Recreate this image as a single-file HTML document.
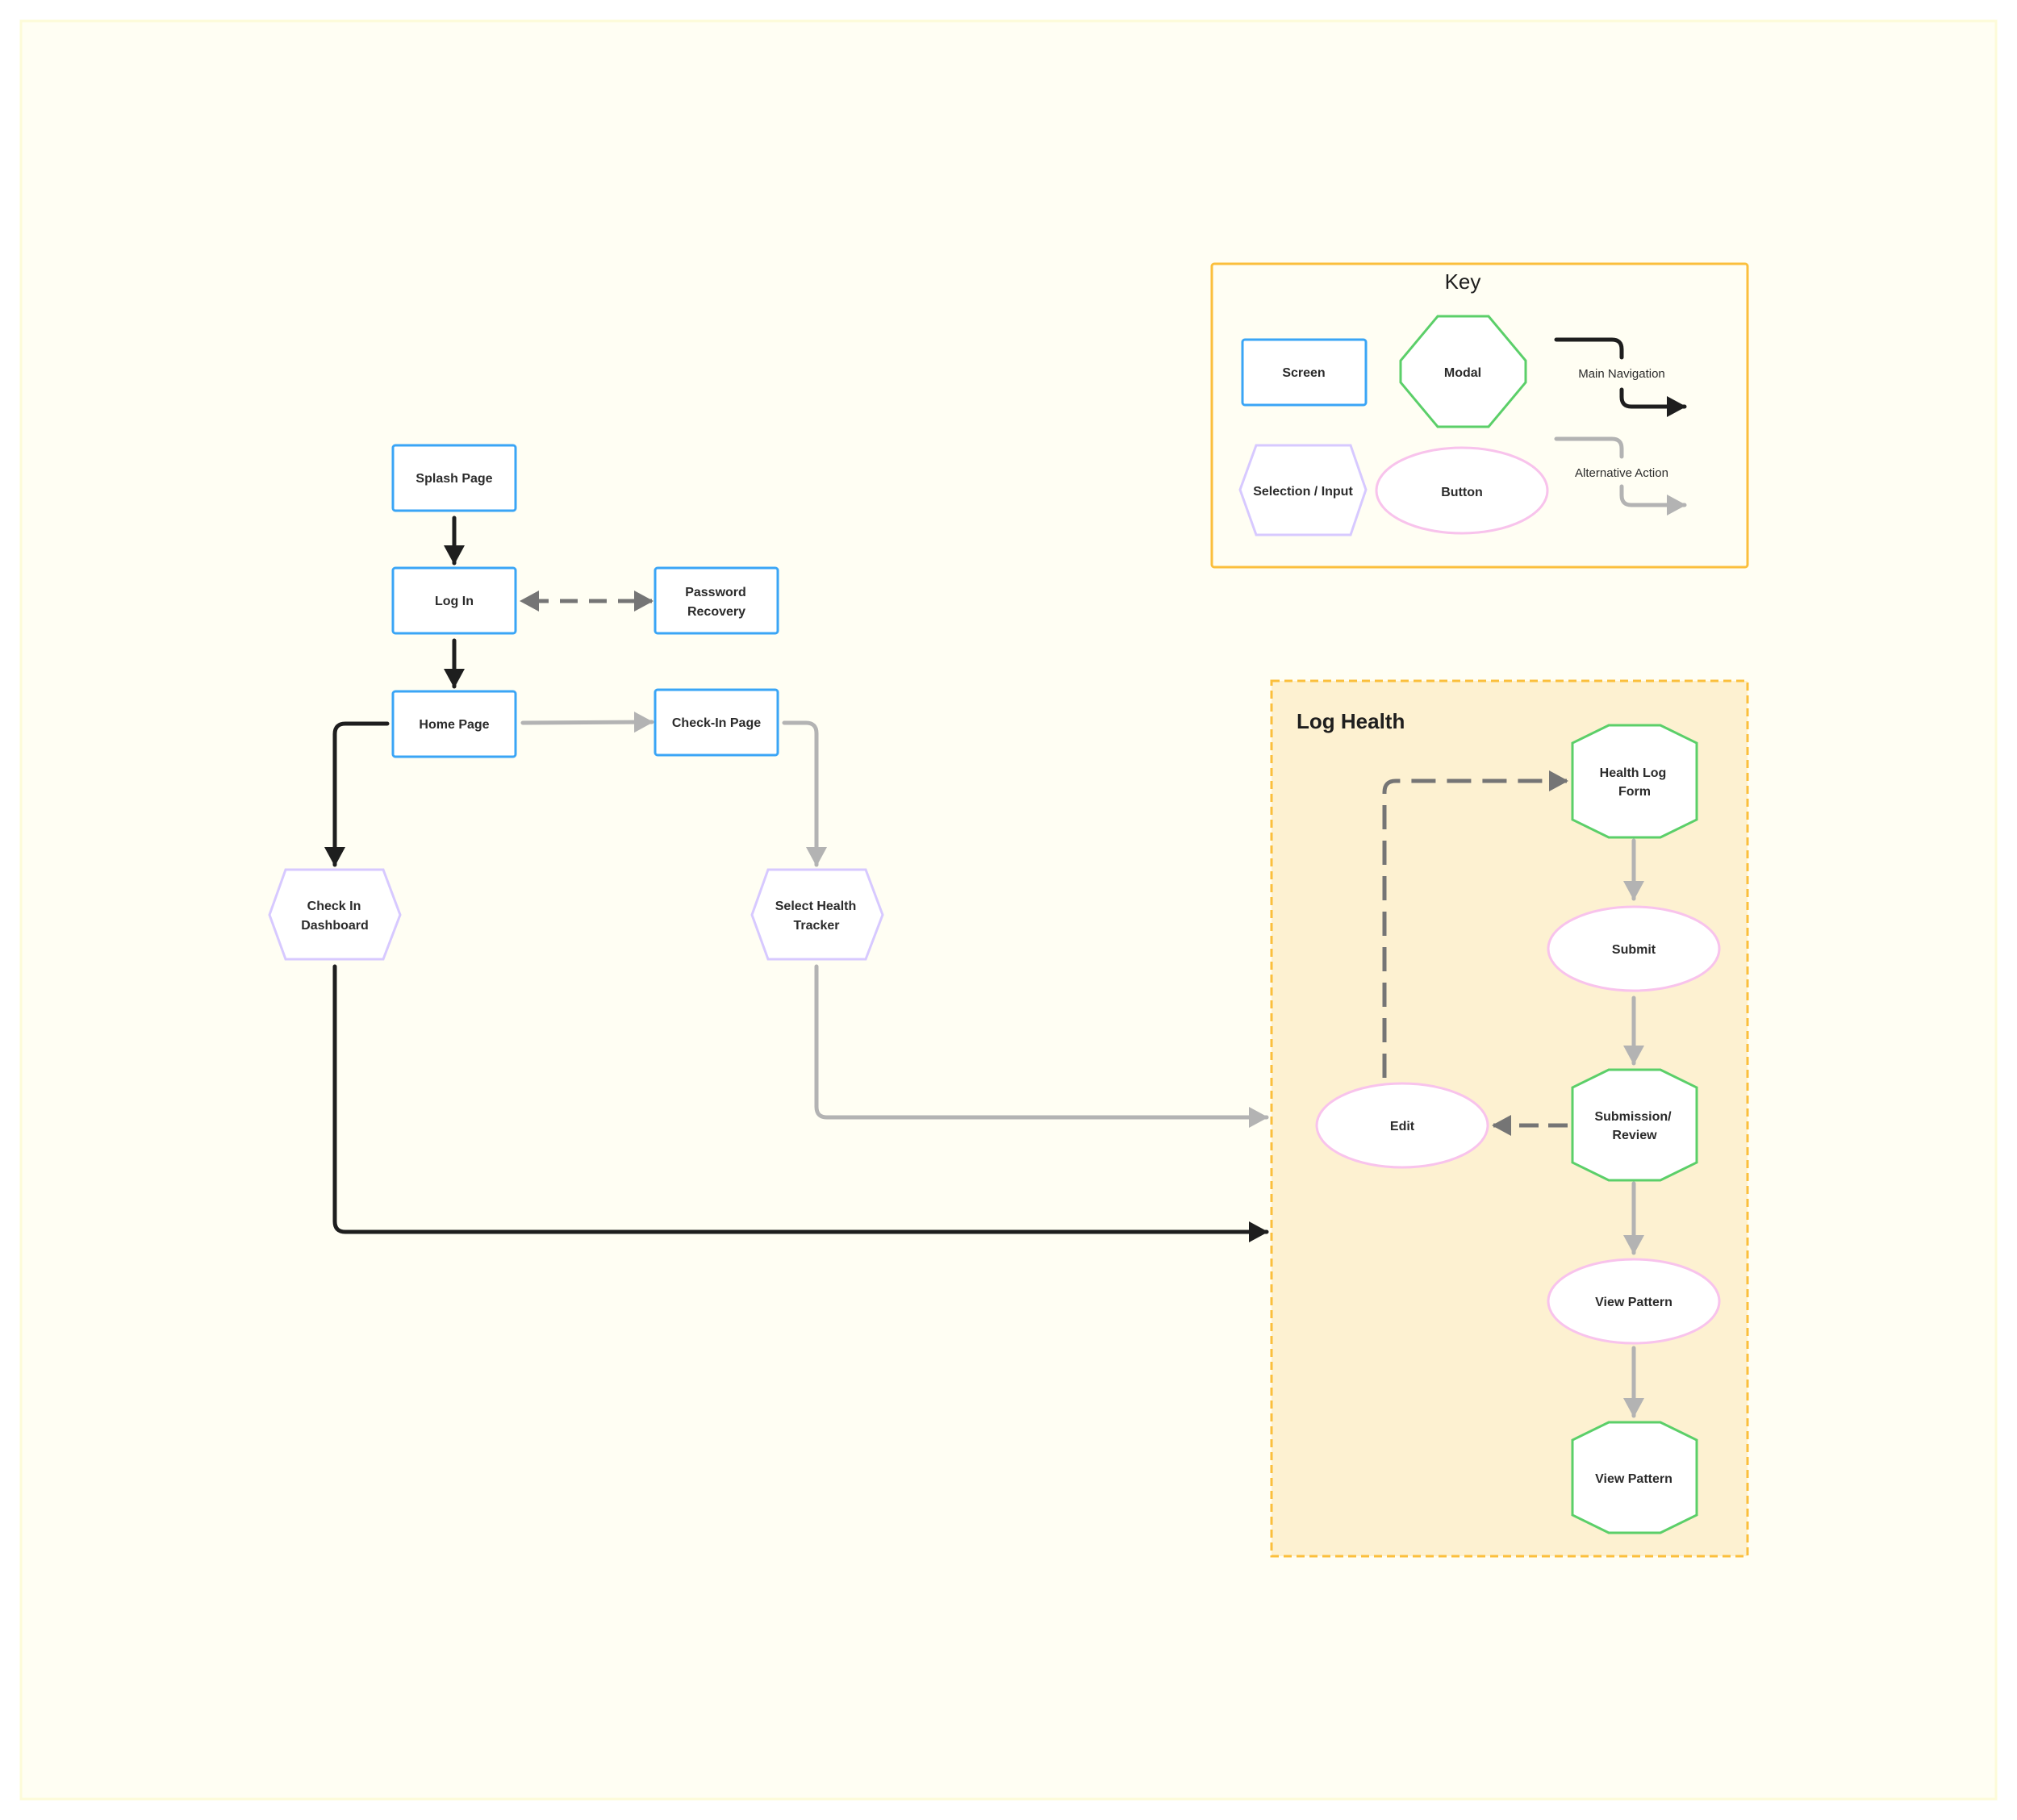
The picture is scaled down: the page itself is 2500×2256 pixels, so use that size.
<!DOCTYPE html>
<html><head><meta charset="utf-8"><style>
html,body{margin:0;padding:0;background:#fff;}
svg{display:block;font-family:"Liberation Sans",sans-serif;}
text{font-weight:bold;fill:#2b2b2b;font-size:16px;text-anchor:middle;}
</style></head><body>
<svg width="2500" height="2256" viewBox="0 0 2500 2256" xmlns="http://www.w3.org/2000/svg">
<defs>
<marker id="ab" markerUnits="userSpaceOnUse" markerWidth="30" markerHeight="30" refX="22" refY="13" orient="auto"><path d="M0,0 L24,13 L0,26 Z" fill="#1e1e1e"/></marker>
<marker id="ag" markerUnits="userSpaceOnUse" markerWidth="30" markerHeight="30" refX="22" refY="13" orient="auto"><path d="M0,0 L24,13 L0,26 Z" fill="#b3b3b3"/></marker>
<marker id="ad" markerUnits="userSpaceOnUse" markerWidth="30" markerHeight="30" refX="22" refY="13" orient="auto"><path d="M0,0 L24,13 L0,26 Z" fill="#757575"/></marker>
<marker id="ads" markerUnits="userSpaceOnUse" markerWidth="30" markerHeight="30" refX="2" refY="13" orient="auto"><path d="M24,0 L0,13 L24,26 Z" fill="#757575"/></marker>
</defs>
<rect x="0" y="0" width="2500" height="2256" fill="#ffffff"/>
<rect x="26" y="26" width="2448" height="2204" fill="#fffef3" stroke="#fdfbd8" stroke-width="3"/>

<!-- Key -->
<rect x="1502" y="327" width="664" height="376" rx="3" fill="#fffef3" stroke="#fbbf3c" stroke-width="3"/>
<text x="1813" y="358" style="font-weight:normal;font-size:26px;fill:#1e1e1e">Key</text>
<rect x="1540" y="421" width="153" height="81" rx="3" fill="#fff" stroke="#3aa5f6" stroke-width="3"/>
<text x="1616" y="467">Screen</text>
<polygon points="1782,392 1845,392 1891,447 1891,474 1845,529 1782,529 1736,474 1736,447" fill="#fff" stroke="#5bcf69" stroke-width="3"/>
<text x="1813" y="467">Modal</text>
<polygon points="1557,552 1674,552 1693,607 1674,663 1557,663 1537,607" fill="#fff" stroke="#d7c9ff" stroke-width="3"/>
<text x="1615" y="614">Selection / Input</text>
<ellipse cx="1812" cy="608" rx="106" ry="53" fill="#fff" stroke="#f8c3ec" stroke-width="3"/>
<text x="1812" y="615">Button</text>
<path d="M1929,421 L1998,421 Q2010,421 2010,433 L2010,443" fill="none" stroke="#1e1e1e" stroke-width="5" stroke-linecap="round"/>
<text x="2010" y="468" style="font-weight:normal;font-size:15px">Main Navigation</text>
<path d="M2010,483 L2010,492 Q2010,504 2022,504 L2088,504" fill="none" stroke="#1e1e1e" stroke-width="5" stroke-linecap="round" marker-end="url(#ab)"/>
<path d="M1929,544 L1998,544 Q2010,544 2010,556 L2010,566" fill="none" stroke="#b3b3b3" stroke-width="5" stroke-linecap="round"/>
<text x="2010" y="591" style="font-weight:normal;font-size:15px">Alternative Action</text>
<path d="M2010,603 L2010,614 Q2010,626 2022,626 L2088,626" fill="none" stroke="#b3b3b3" stroke-width="5" stroke-linecap="round" marker-end="url(#ag)"/>

<!-- Log Health group -->
<rect x="1576" y="844" width="590" height="1085" fill="#fdf1d1" stroke="#fbbf3c" stroke-width="3" stroke-dasharray="10,6"/>
<text x="1607" y="903" style="text-anchor:start;font-size:26px;fill:#1e1e1e">Log Health</text>

<!-- Main screens -->
<rect x="487" y="552" width="152" height="81" rx="3" fill="#fff" stroke="#3aa5f6" stroke-width="3"/>
<text x="563" y="598">Splash Page</text>
<rect x="487" y="704" width="152" height="81" rx="3" fill="#fff" stroke="#3aa5f6" stroke-width="3"/>
<text x="563" y="750">Log In</text>
<rect x="812" y="704" width="152" height="81" rx="3" fill="#fff" stroke="#3aa5f6" stroke-width="3"/>
<text x="887" y="739">Password</text>
<text x="888" y="763">Recovery</text>
<rect x="487" y="857" width="152" height="81" rx="3" fill="#fff" stroke="#3aa5f6" stroke-width="3"/>
<text x="563" y="903">Home Page</text>
<rect x="812" y="855" width="152" height="81" rx="3" fill="#fff" stroke="#3aa5f6" stroke-width="3"/>
<text x="888" y="901">Check-In  Page</text>

<polygon points="354,1078 475,1078 496,1134 475,1189 354,1189 334,1134" fill="#fff" stroke="#d7c9ff" stroke-width="3"/>
<text x="414" y="1128">Check In</text>
<text x="415" y="1152">Dashboard</text>
<polygon points="952,1078 1073,1078 1094,1134 1073,1189 952,1189 932,1134" fill="#fff" stroke="#d7c9ff" stroke-width="3"/>
<text x="1011" y="1128">Select Health</text>
<text x="1012" y="1152">Tracker</text>

<!-- Connectors -->
<path d="M563,642 L563,698" stroke="#1e1e1e" stroke-width="5" stroke-linecap="round" marker-end="url(#ab)"/>
<path d="M563,794 L563,851" stroke="#1e1e1e" stroke-width="5" stroke-linecap="round" marker-end="url(#ab)"/>
<path d="M646,745 L808,745" stroke="#757575" stroke-width="5" stroke-dasharray="22,14" stroke-dashoffset="-12" marker-start="url(#ads)" marker-end="url(#ad)"/>
<path d="M648,896 L808,895" stroke="#b3b3b3" stroke-width="5" stroke-linecap="round" marker-end="url(#ag)"/>
<path d="M480,897 L428,897 Q415,897 415,910 L415,1072" fill="none" stroke="#1e1e1e" stroke-width="5" stroke-linecap="round" marker-end="url(#ab)"/>
<path d="M972,896 L999,896 Q1012,896 1012,909 L1012,1072" fill="none" stroke="#b3b3b3" stroke-width="5" stroke-linecap="round" marker-end="url(#ag)"/>
<path d="M1012,1198 L1012,1372 Q1012,1385 1025,1385 L1570,1385" fill="none" stroke="#b3b3b3" stroke-width="5" stroke-linecap="round" marker-end="url(#ag)"/>
<path d="M415,1198 L415,1514 Q415,1527 428,1527 L1570,1527" fill="none" stroke="#1e1e1e" stroke-width="5" stroke-linecap="round" marker-end="url(#ab)"/>

<!-- Log Health nodes -->
<polygon points="1994,899 2058,899 2103,921 2103,1016 2058,1038 1994,1038 1949,1016 1949,921" fill="#fff" stroke="#5bcf69" stroke-width="3"/>
<text x="2024" y="963">Health Log</text>
<text x="2026" y="986">Form</text>
<ellipse cx="2025" cy="1176" rx="106" ry="52" fill="#fff" stroke="#f8c3ec" stroke-width="3"/>
<text x="2025" y="1182">Submit</text>
<polygon points="1994,1326 2058,1326 2103,1348 2103,1441 2058,1463 1994,1463 1949,1441 1949,1348" fill="#fff" stroke="#5bcf69" stroke-width="3"/>
<text x="2024" y="1389">Submission/</text>
<text x="2026" y="1412">Review</text>
<ellipse cx="1738" cy="1395" rx="106" ry="52" fill="#fff" stroke="#f8c3ec" stroke-width="3"/>
<text x="1738" y="1401">Edit</text>
<ellipse cx="2025" cy="1613" rx="106" ry="52" fill="#fff" stroke="#f8c3ec" stroke-width="3"/>
<text x="2025" y="1619">View Pattern</text>
<polygon points="1994,1763 2058,1763 2103,1785 2103,1878 2058,1900 1994,1900 1949,1878 1949,1785" fill="#fff" stroke="#5bcf69" stroke-width="3"/>
<text x="2025" y="1838">View Pattern</text>

<path d="M2025,1042 L2025,1114" stroke="#b3b3b3" stroke-width="5" stroke-linecap="round" marker-end="url(#ag)"/>
<path d="M2025,1237 L2025,1318" stroke="#b3b3b3" stroke-width="5" stroke-linecap="round" marker-end="url(#ag)"/>
<path d="M2025,1467 L2025,1553" stroke="#b3b3b3" stroke-width="5" stroke-linecap="round" marker-end="url(#ag)"/>
<path d="M2025,1671 L2025,1755" stroke="#b3b3b3" stroke-width="5" stroke-linecap="round" marker-end="url(#ag)"/>
<path d="M1716,1336 L1716,982 Q1716,968 1730,968 L1942,968" fill="none" stroke="#757575" stroke-width="5" stroke-dasharray="30,14" marker-end="url(#ad)"/>
<path d="M1943,1395 L1851,1395" stroke="#757575" stroke-width="5" stroke-dasharray="24,12" marker-end="url(#ad)"/>
</svg>
</body></html>
